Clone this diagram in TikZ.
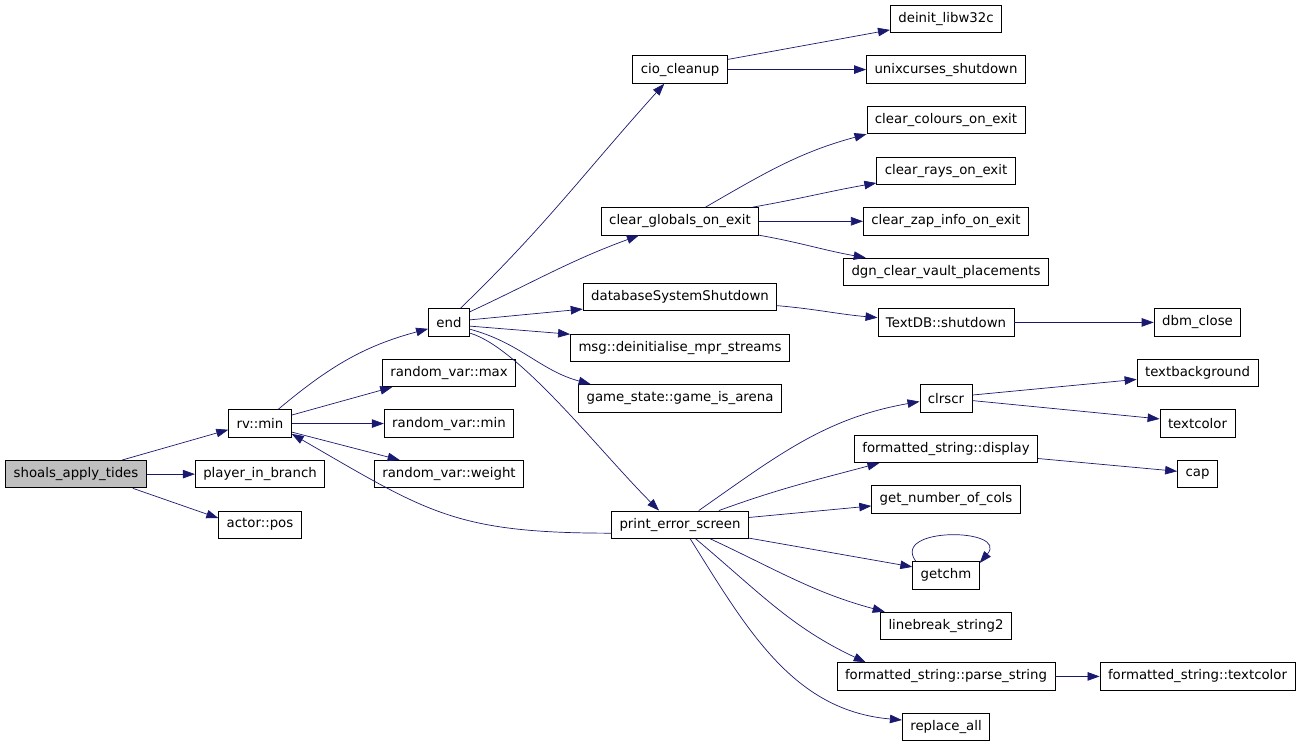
\documentclass[tikz,border=0pt]{standalone}
\usepackage{fontspec}
\setmainfont{DejaVu Sans}
\usepackage{xcolor}
\usetikzlibrary{arrows.meta}
\definecolor{edgeblue}{RGB}{25,25,112}
\definecolor{rootgray}{RGB}{191,191,191}

\begin{document}
\begin{tikzpicture}[x=1pt,y=1pt]
% 1 = 1px
    \def\ROW{50.57} %row pitch
    \def\YTOP{-19}
    
    \def\XZERO{76}
    \def\XONE{260}
    \def\XTWO{449}
    \def\XTHREE{680}
    \def\XFOUR{946}
    \def\XFIVE{1197.5}

    \tikzset{
      func box/.style={draw, line width=0.8pt, inner xsep=8pt, inner ysep=0pt,
        minimum height=27.5pt, font=\fontsize{13.3}{15}\selectfont},
      root box/.style={func box, fill=rootgray},
      call/.style={-{Triangle[length=12pt,width=8.5pt]}, edgeblue, line width=0.7pt},
    }

    \useasboundingbox (0,0) rectangle (1299,-745);

    % LEFT COLUMNS
    \node[root box] (shoals) at (\XZERO,\YTOP-9*\ROW) {shoals\_apply\_tides};
    \node[func box] (rvmin) at (\XONE,\YTOP-8*\ROW) {rv::min};
    \node[func box] (player) at (\XONE,\YTOP-9*\ROW) {player\_in\_branch};
    \node[func box] (actor) at (\XONE,\YTOP-10*\ROW) {actor::pos};
    \node[func box] (end) at (\XTWO,\YTOP-6*\ROW) {end};
    \node[func box] (rvmax) at (\XTWO,\YTOP-7*\ROW) {random\_var::max};
    \node[func box] (rvminb) at (\XTWO,\YTOP-8*\ROW) {random\_var::min};
    \node[func box] (rvweight) at (\XTWO,\YTOP-9*\ROW) {random\_var::weight};

    % MIDDLE COLUMN
    \node[func box] (cio) at (\XTHREE,\YTOP-1*\ROW) {cio\_cleanup};
    \node[func box] (globals) at (\XTHREE,\YTOP-4*\ROW) {clear\_globals\_on\_exit};
    \node[func box] (dbss) at (\XTHREE,\YTOP-5.5*\ROW) {databaseSystemShutdown};
    \node[func box] (msg) at (\XTHREE,\YTOP-6.5*\ROW) {msg::deinitialise\_mpr\_streams};
    \node[func box] (gsa) at (\XTHREE,\YTOP-7.5*\ROW) {game\_state::game\_is\_arena};
    \node[func box] (pes) at (\XTHREE,\YTOP-10*\ROW) {print\_error\_screen};

    % RIGHT COLUMNS
    \node[func box] (deinit) at (\XFOUR,\YTOP) {deinit\_libw32c};
    \node[func box] (unix) at (\XFOUR,\YTOP-1*\ROW) {unixcurses\_shutdown};
    \node[func box] (colours) at (\XFOUR,\YTOP-2*\ROW) {clear\_colours\_on\_exit};
    \node[func box] (rays) at (\XFOUR,\YTOP-3*\ROW) {clear\_rays\_on\_exit};
    \node[func box] (zap) at (\XFOUR,\YTOP-4*\ROW) {clear\_zap\_info\_on\_exit};
    \node[func box] (dgn) at (\XFOUR,\YTOP-5*\ROW) {dgn\_clear\_vault\_placements};
    \node[func box] (textdb) at (\XFOUR,\YTOP-6*\ROW) {TextDB::shutdown};
    \node[func box] (clrscr) at (\XFOUR,\YTOP-7.5*\ROW) {clrscr};
    \node[func box] (display) at (\XFOUR,\YTOP-8.5*\ROW) {formatted\_string::display};
    \node[func box] (gnc) at (\XFOUR,\YTOP-9.5*\ROW) {get\_number\_of\_cols};
    \node[func box] (getchm) at (\XFOUR,\YTOP-11*\ROW) {getchm};
    \node[func box] (linebreak) at (\XFOUR,\YTOP-12*\ROW) {linebreak\_string2};
    \node[func box] (parse) at (\XFOUR,\YTOP-13*\ROW) {formatted\_string::parse\_string};
    \node[func box] (replace) at (\XFOUR,\YTOP-14*\ROW) {replace\_all};

    \node[func box] (dbm) at (\XFIVE,\YTOP-6*\ROW) {dbm\_close};
    \node[func box] (textbg) at (\XFIVE,\YTOP-7*\ROW) {textbackground};
    \node[func box] (textcolor) at (\XFIVE,\YTOP-8*\ROW) {textcolor};
    \node[func box] (cap) at (\XFIVE,\YTOP-9*\ROW) {cap};
    \node[func box] (fstextcolor) at (\XFIVE,\YTOP-13*\ROW) {formatted\_string::textcolor};

    % ROOT CALLS
    \draw[call] (shoals.17) -- (rvmin.191);
    \draw[call] (shoals) -- (player);
    \draw[call] (shoals.-14) -- (actor.171);

    % RV::MIN CALLS
    \draw[call] (rvmin.38) to[out=40,in=195] (end.197);
    \draw[call] (rvmin.15) -- (rvmax.194);
    \draw[call] (rvmin) -- (rvminb);
    \draw[call] (rvmin.-15) -- (rvweight.164);

    % END CALLS
    \draw[call] (end.51) to[out=44,in=228] (cio.222);
    \draw[call] (end.27) to[out=25,in=200] (globals.199);
    \draw[call] (end.7) -- (dbss.187);
    \draw[call] (end.-10) -- (msg.173);
    \draw[call] (end.-18) to[out=-15,in=165] (gsa.171);
    \draw[call] (end.-27) .. controls +(50,-15) and +(-60,60) .. (pes.146);

    % CIO AND GLOBALS CALLS
    \draw[call] (cio.12) -- (deinit.191);
    \draw[call] (cio) -- (unix);
    \draw[call] (globals.29) to[out=30,in=195] (colours.190);
    \draw[call] (globals.11) to[out=10,in=190] (rays.190);
    \draw[call] (globals) -- (zap);
    \draw[call] (globals.-10) to[out=-10,in=170] (dgn.170);

    % DATABASE
    \draw[call] (dbss.-5) to[out=-5,in=175] (textdb.176);
    \draw[call] (textdb) -- (dbm);

    % SCREEN HELPERS
    \draw[call] (clrscr.7) -- (textbg.186);
    \draw[call] (clrscr.-5) -- (textcolor.173);
    \draw[call] (display.-6) -- (cap.172);
    \draw[call] (parse) -- (fstextcolor);

    % PRINT_ERROR_SCREEN CALLS
    \draw[call] (pes.187) to[out=180,in=-30,looseness=1.2] (rvmin.-18);
    \draw[call] (pes.37) to[out=35,in=190] (clrscr.187);
    \draw[call] (pes.20) to[out=20,in=195] (display.192);
    \draw[call] (pes.6) -- (gnc.185);
    \draw[call] (pes.-11) -- (getchm.166);
    \draw[call] (pes.-25) to[out=-25,in=165] (linebreak.167);
    \draw[call] (pes.-42) to[out=-40,in=155] (parse.170);
    \draw[call] (pes.-54) to[out=-58,in=175] (replace.171);
    \draw[call] (getchm.155) .. controls +(-25,35) and +(30,35) .. (getchm.20);

\end{tikzpicture}
\end{document}
